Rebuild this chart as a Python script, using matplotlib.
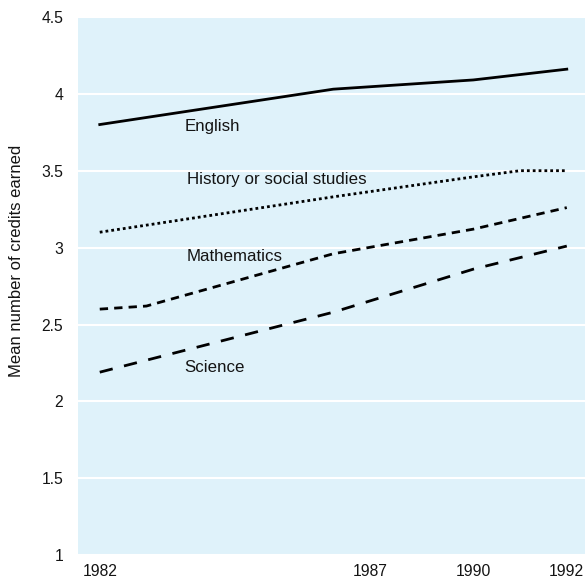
import matplotlib
matplotlib.use("Agg")
import matplotlib.pyplot as plt

plt.rcParams['font.family'] = ['Liberation Sans', 'DejaVu Sans']

# values
english_years = [1982, 1987, 1990, 1992]
english = [3.80, 4.03, 4.09, 4.16]

history_years = [1982, 1987, 1990, 1991, 1992]
history = [3.10, 3.33, 3.46, 3.50, 3.50]

math_years = [1982, 1983, 1987, 1990, 1992]
math = [2.60, 2.62, 2.96, 3.12, 3.26]

science_years = [1982, 1987, 1990, 1992]
science = [2.19, 2.58, 2.86, 3.01]

tick_labels = ['1982', '1987', '1990', '1992']
tick_pos = [1982, 1987.8, 1990, 1992]   # 1987 label sits off its year in the original
y_ticks = [1, 1.5, 2, 2.5, 3, 3.5, 4, 4.5]
y_tick_labels = ['1', '1.5', '2', '2.5', '3', '3.5', '4', '4.5']

txt = '#141414'
bg = '#dff2fa'

fig = plt.figure(figsize=(5.85, 5.82), dpi=100)
ax = fig.add_axes([0.133, 0.046, 0.867, 0.925])
ax.set_facecolor(bg)

ax.plot(english_years, english, color='black', lw=2, solid_joinstyle='round')
ax.plot(history_years, history, color='black', lw=2, linestyle=(0, (1, 1.1)))
ax.plot(math_years, math, color='black', lw=2, linestyle=(0, (3, 2.2)))
ax.plot(science_years, science, color='black', lw=2, linestyle=(0, (4.8, 4.2)))

# series labels
lab = dict(fontsize=12.2, color=txt, va='center')
ax.text(1983.82, 3.786, 'English', **lab)
ax.text(1983.86, 3.44, 'History or social studies', **lab)
ax.text(1983.86, 2.94, 'Mathematics', **lab)
ax.text(1983.82, 2.22, 'Science', **lab)

ax.set_xlim(1981.53, 1992.39)
ax.set_ylim(1, 4.5)
ax.set_yticks(y_ticks)
ax.set_yticklabels(y_tick_labels)
ax.set_xticks(tick_pos)
ax.set_xticklabels(tick_labels)
ax.tick_params(length=0, labelsize=11.3, labelcolor=txt)
ax.tick_params(axis='y', pad=10.5)
ax.tick_params(axis='x', pad=6)
ax.grid(axis='y', color='white', lw=1.5)
ax.set_axisbelow(True)
for s in ax.spines.values():
    s.set_visible(False)

ax.set_ylabel('Mean number of credits earned', fontsize=12, color=txt, va='center')
ax.yaxis.set_label_coords(-0.120, 0.546)

fig.savefig('out.png', dpi=100)
